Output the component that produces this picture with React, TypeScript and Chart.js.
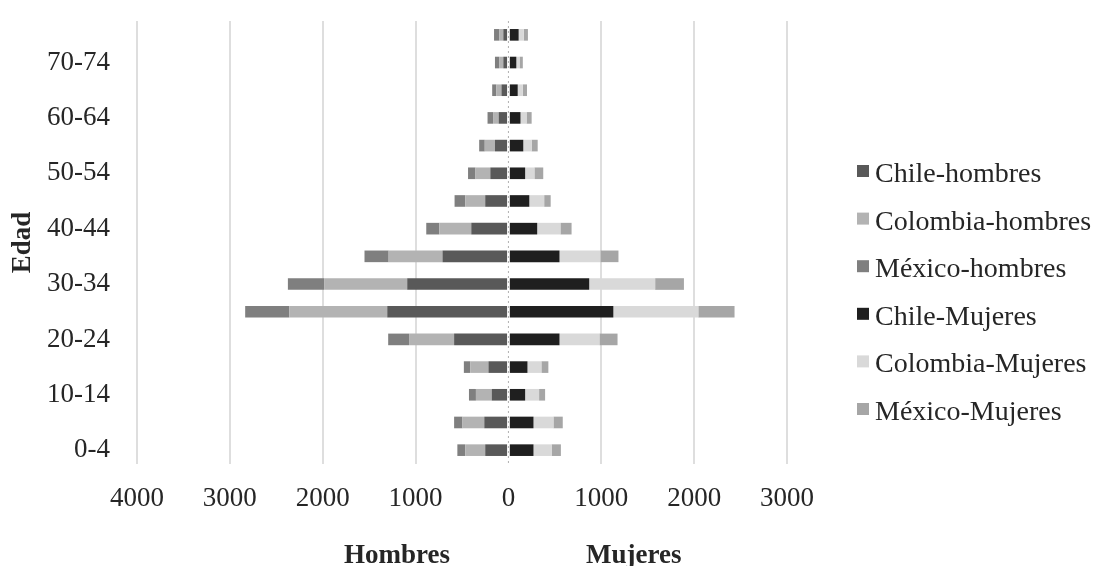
import React, { useEffect, useRef } from 'react';
import { Chart, registerables } from 'chart.js';

Chart.register(...registerables);

// ---- data ----
const ageGroups = ['0-4', '5-9', '10-14', '15-19', '20-24', '25-29', '30-34', '35-39', '40-44', '45-49', '50-54', '55-59', '60-64', '65-69', '70-74', '75-79'];

const chileHombres = [250, 260, 180, 215, 585, 1305, 1090, 710, 400, 250, 195, 145, 105, 75, 55, 55];
const colombiaHombres = [215, 235, 170, 195, 485, 1055, 895, 580, 345, 215, 160, 110, 60, 55, 45, 45];
const mexicoHombres = [85, 90, 75, 70, 225, 475, 390, 260, 140, 115, 80, 60, 60, 45, 45, 55];
const chileMujeres = [270, 270, 180, 205, 550, 1130, 870, 550, 310, 225, 180, 160, 130, 100, 85, 110];
const colombiaMujeres = [195, 215, 150, 150, 430, 915, 710, 440, 250, 160, 100, 90, 65, 55, 35, 55];
const mexicoMujeres = [100, 100, 65, 75, 195, 390, 310, 195, 120, 70, 95, 65, 55, 45, 35, 45];

const seriesNames = ['Chile-hombres', 'Colombia-hombres', 'México-hombres', 'Chile-Mujeres', 'Colombia-Mujeres', 'México-Mujeres'];
const seriesColors = ['#595959', '#b3b3b3', '#7f7f7f', '#1f1f1f', '#d9d9d9', '#a6a6a6'];

const axisMin = -4000;
const axisMax = 3000;
const axisStep = 1000;

const yAxisTitle = 'Edad';
const sideTitles = ['Hombres', 'Mujeres'];

const FONT = "'Liberation Serif', 'Times New Roman', Times, serif";
const TEXT = '#262626';

const overlayPlugin = {
  id: 'overlay',
  afterDatasetsDraw(chart: any) {
    const { ctx, chartArea, scales } = chart;
    const x0 = scales.x.getPixelForValue(0);
    ctx.save();
    ctx.strokeStyle = '#ffffff';
    ctx.lineWidth = 2.5;
    ctx.beginPath();
    ctx.moveTo(x0, chartArea.top);
    ctx.lineTo(x0, chartArea.bottom);
    ctx.stroke();
    ctx.strokeStyle = '#b0b0b0';
    ctx.lineWidth = 1;
    ctx.setLineDash([2, 3]);
    ctx.beginPath();
    ctx.moveTo(x0, chartArea.top);
    ctx.lineTo(x0, chartArea.bottom);
    ctx.stroke();
    ctx.restore();
  },
  afterDraw(chart: any) {
    const { ctx, scales } = chart;
    ctx.save();
    // legend
    ctx.font = `28px ${FONT}`;
    ctx.textAlign = 'left';
    ctx.textBaseline = 'alphabetic';
    chart.data.datasets.forEach((ds: any, i: number) => {
      const base = 182 + i * 47.6;
      ctx.fillStyle = ds.backgroundColor;
      ctx.fillRect(857, base - 17, 12, 12);
      ctx.fillStyle = TEXT;
      ctx.fillText(ds.label, 875, base);
    });
    // side titles
    ctx.font = `bold 27px ${FONT}`;
    ctx.textAlign = 'center';
    ctx.fillStyle = TEXT;
    ctx.fillText(sideTitles[0], scales.x.getPixelForValue(-1200), 563);
    ctx.fillText(sideTitles[1], scales.x.getPixelForValue(1350), 563);
    ctx.restore();
  },
};

export default function App() {
  const canvasRef = useRef<HTMLCanvasElement | null>(null);

  useEffect(() => {
    if (!canvasRef.current) return;
    const series = [chileHombres, colombiaHombres, mexicoHombres, chileMujeres, colombiaMujeres, mexicoMujeres];
    const datasets = series.map((vals, i) => ({
      label: seriesNames[i],
      data: i < 3 ? vals.map((v) => -v) : vals.slice(),
      backgroundColor: seriesColors[i],
      borderWidth: 0,
      barPercentage: 0.42,
      categoryPercentage: 1.0,
    }));

    const chart = new Chart(canvasRef.current, {
      type: 'bar',
      data: { labels: ageGroups, datasets },
      plugins: [overlayPlugin],
      options: {
        indexAxis: 'y',
        responsive: false,
        animation: false,
        layout: { padding: { top: 21, right: 307, bottom: 0, left: 0 } },
        plugins: {
          legend: { display: false },
          tooltip: { enabled: false },
          title: { display: false },
        },
        scales: {
          x: {
            type: 'linear',
            stacked: true,
            min: axisMin,
            max: axisMax,
            ticks: {
              stepSize: axisStep,
              padding: 19,
              color: TEXT,
              font: { family: FONT, size: 27 },
              callback: (v: any) => String(Math.abs(Number(v))),
            },
            grid: {
              drawTicks: false,
              lineWidth: 2,
              color: (c: any) => (c.tick && c.tick.value === 0 ? 'rgba(0,0,0,0)' : '#dedede'),
            },
            border: { display: false },
            afterFit: (s: any) => {
              s.height = 102;
              s.paddingLeft = 0;
              s.paddingRight = 0;
            },
          },
          y: {
            type: 'category',
            stacked: true,
            reverse: true,
            ticks: {
              autoSkip: false,
              padding: 27,
              color: TEXT,
              font: { family: FONT, size: 27 },
              callback: (_v: any, idx: number) => (idx % 2 === 0 ? ageGroups[idx] : ''),
            },
            grid: { display: false, drawTicks: false },
            border: { display: false },
            title: {
              display: true,
              text: yAxisTitle,
              color: TEXT,
              font: { family: FONT, size: 27, weight: 'bold' },
              padding: { top: 7, bottom: 0 },
            },
            afterFit: (s: any) => {
              s.width = 137;
              s.paddingTop = 0;
              s.paddingBottom = 0;
            },
          },
        },
      } as any,
    });
    return () => chart.destroy();
  }, []);

  return (
    <div style={{ position: 'absolute', left: 0, top: 0, width: 1094, height: 566, background: '#ffffff' }}>
      <canvas ref={canvasRef} width={1094} height={566} style={{ display: 'block' }} />
    </div>
  );
}
